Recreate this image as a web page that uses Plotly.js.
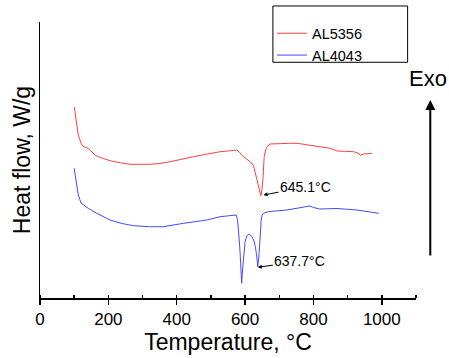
<!DOCTYPE html>
<html>
<head>
<meta charset="utf-8">
<script src="https://cdn.plot.ly/plotly-3.0.1.min.js"></script>
<style>html,body{margin:0;padding:0;background:#fff;}#chart{width:449px;height:358px;}</style>
</head>
<body>
<div id="chart"></div>
<script>
// Temperature (°C) and heat flow (arbitrary units)
const al5356Temp = [100,105,112,120,125,141,163,185,205,235,264,322,350,381,415,449,490,527,555,576,583,590,600,615,625,630,636,639,644,646,648,650,652,654,656,660,664,673,700,730,752,789,820,849,862,869,890,917,930,937,947,971];
const al5356Flow = [191.3,178,163,155,152,149.5,142.5,139.5,137.3,135.2,133.7,133.7,134.5,136.3,139,141.3,144,146.3,147.2,148,146,143,140,136.3,132,124.7,116,111.3,105,102.3,105,111,118,130,141.3,148,151.3,154,154.5,154.7,154.7,153,151.5,149.7,148,147,146.7,146.3,145,143,144,144.7];
const al4043Temp = [100,105,112,120,127,141,166,205,240,273,320,361,420,488,527,556,574,578,581,584,586,588,590,592,595,598,600,605,610,615,620,626,630,634,637,640,643,645,647,650,654,668,722,760,789,800,818,869,927,991];
const al4043Flow = [129.7,118,103,95,93,89.7,84.7,78,74.5,72.3,71.3,71.3,74.7,78,81.3,82.5,83,78,68,53,41.3,26,14.7,26,41.3,52,56.3,62,63.7,63,61.3,57,51.3,42,31.3,40,51.3,66,78,83,84.7,86.3,88,90,92,90.5,89,89.5,88,84.7];
const seriesNames = ['AL5356','AL4043'];
const peakLabels = ['645.1°C','637.7°C'];
const peakTemps = [654, 637.5];
const peakFlows = [103, 30.7];
const xTickVals = [0,200,400,600,800,1000];

const FONT = 'Liberation Sans, Arial, sans-serif';
const traces = [
  {x: al5356Temp, y: al5356Flow, name: seriesNames[0], type: 'scatter', mode: 'lines', line: {color: 'rgb(255,64,64)', width: 1}},
  {x: al4043Temp, y: al4043Flow, name: seriesNames[1], type: 'scatter', mode: 'lines', line: {color: 'rgb(72,72,255)', width: 1}}
];
const layout = {
  width: 449, height: 358,
  margin: {l: 40, r: 33, t: 22, b: 60},
  paper_bgcolor: '#fff', plot_bgcolor: '#fff',
  font: {family: FONT, color: '#000'},
  showlegend: true,
  legend: {x: 0.617, y: 1.017, xanchor: 'left', yanchor: 'top', bgcolor: 'rgba(0,0,0,0)', borderwidth: 0, font: {size: 14.5, family: FONT}, tracegroupgap: 0},
  xaxis: {
    range: [0, 1100], showline: true, linecolor: '#000', linewidth: 1.5,
    tickvals: xTickVals, ticks: 'outside', ticklen: 5, tickwidth: 1.5, tickcolor: '#000',
    minor: {dtick: 100, ticks: 'inside', ticklen: 3, tickwidth: 1.5, tickcolor: '#000'},
    showgrid: false, zeroline: false,
    tickfont: {size: 17, family: FONT},
    title: {text: 'Temperature, °C', font: {size: 23, family: FONT}, standoff: 5}
  },
  yaxis: {
    range: [0, 276], showline: true, linecolor: '#000', linewidth: 1.5,
    ticks: '', showticklabels: false, showgrid: false, zeroline: false,
    title: {text: 'Heat flow, W/g', font: {size: 23, family: FONT}, standoff: 1}
  },
  shapes: [
    {type: 'rect', xref: 'paper', yref: 'paper', x0: 0.6194, x1: 0.9777, y0: 0.854, y1: 1.058, line: {color: '#000', width: 1}}
  ],
  annotations: [
    {x: peakTemps[0], y: peakFlows[0], xref: 'x', yref: 'y', text: peakLabels[0], showarrow: true, ax: 42, ay: -8, arrowhead: 2, arrowsize: 0.8, arrowwidth: 1, arrowcolor: '#000', font: {size: 14, family: FONT}},
    {x: peakTemps[1], y: peakFlows[1], xref: 'x', yref: 'y', text: peakLabels[1], showarrow: true, ax: 42, ay: -6, arrowhead: 2, arrowsize: 0.8, arrowwidth: 1, arrowcolor: '#000', font: {size: 14, family: FONT}},
    {x: 1.0327, y: 0.7935, xref: 'paper', yref: 'paper', xanchor: 'center', yanchor: 'middle', text: 'Exo', showarrow: false, font: {size: 22, family: FONT}},
    {x: 1.038, y: 0.7174, xref: 'paper', yref: 'paper', text: '', showarrow: true, ax: 0, ay: 157, arrowhead: 2, arrowsize: 1, arrowwidth: 2, arrowcolor: '#000'}
  ]
};
Plotly.newPlot('chart', traces, layout, {staticPlot: true, displayModeBar: false});
</script>
</body>
</html>
